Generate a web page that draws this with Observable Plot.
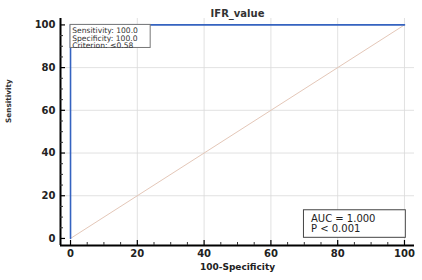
<!DOCTYPE html>
<html>
<head>
<meta charset="utf-8">
<script src="https://cdn.jsdelivr.net/npm/d3@7"></script>
<script src="https://cdn.jsdelivr.net/npm/@observablehq/plot@0.6"></script>
<style>
  body { margin: 0; background: #fff; }
  #chart svg { font-family: "DejaVu Sans", sans-serif; }
</style>
</head>
<body>
<div id="chart"></div>
<script>
// ROC curve data (100-Specificity, Sensitivity)
const rocX = [0, 0, 100];
const rocY = [0, 100, 100];
// reference diagonal
const diagX = [0, 100];
const diagY = [0, 100];
// axis ticks
const majorTicks = [0, 20, 40, 60, 80, 100];
const minorTicks = d3.range(0, 101, 5).filter(v => v % 20 !== 0);
const gridX = [20, 40, 60, 80, 100];
const gridY = [20, 40, 60, 80];
const xDomain = [-3, 103];
const yDomain = [-3.3, 103];
// annotations
const title = "IFR_value";
const xLabel = "100-Specificity";
const yLabel = "Sensitivity";
const infoLines = ["Sensitivity: 100.0", "Specificity: 100.0", "Criterion: \u22640.58"];
const aucLines = ["AUC = 1.000", "P < 0.001"];

const roc = rocX.map((x, i) => ({x, y: rocY[i]}));
const diag = diagX.map((x, i) => ({x, y: diagY[i]}));

const chart = Plot.plot({
  width: 422,
  height: 280,
  marginLeft: 60,
  marginRight: 8,
  marginTop: 18,
  marginBottom: 35,
  style: {fontFamily: "'DejaVu Sans', sans-serif", background: "#fff"},
  x: {domain: xDomain, label: null},
  y: {domain: yDomain, label: null},
  marks: [
    Plot.ruleX(gridX, {stroke: "#d9d9d9", strokeWidth: 0.8}),
    Plot.ruleY(gridY, {stroke: "#d9d9d9", strokeWidth: 0.8}),
    Plot.line(diag, {x: "x", y: "y", stroke: "#e4c7b8", strokeWidth: 1}),
    Plot.line(roc, {x: "x", y: "y", stroke: "#3563c0", strokeWidth: 1.6}),
    // axis lines
    Plot.ruleX([xDomain[0]], {stroke: "#000", strokeWidth: 2}),
    Plot.ruleY([yDomain[0]], {stroke: "#000", strokeWidth: 2}),
    // inward ticks
    Plot.axisX({ticks: majorTicks, tickSize: -5, text: null, stroke: "#000", strokeWidth: 1.2, label: null}),
    Plot.axisX({ticks: minorTicks, tickSize: -3, text: null, stroke: "#333", label: null}),
    Plot.axisY({ticks: majorTicks, tickSize: -5, text: null, stroke: "#000", strokeWidth: 1.2, label: null}),
    Plot.axisY({ticks: minorTicks, tickSize: -3, text: null, stroke: "#333", label: null}),
    // tick labels
    Plot.axisX({ticks: majorTicks, tickSize: 0, tickPadding: 4, fontSize: 10, fontWeight: "bold", fill: "#222", label: null}),
    Plot.axisY({ticks: majorTicks, tickSize: 0, tickPadding: 5, fontSize: 10, fontWeight: "bold", fill: "#222", label: null}),
    // title & axis labels
    Plot.text([title], {frameAnchor: "top", dy: -9, fontSize: 10, fontWeight: "bold", fill: "#333"}),
    Plot.text([xLabel], {frameAnchor: "bottom", dy: 24, fontSize: 9, fontWeight: "bold", fill: "#222"}),
    Plot.text([yLabel], {frameAnchor: "left", dx: -52, dy: -9, rotate: -90, fontSize: 7.3, fontWeight: "bold", fill: "#333"}),
    // info box (top-left)
    Plot.rect([0], {x1: 0, x2: 24, y1: 89.2, y2: 100, fill: "#fff", stroke: "#777", strokeWidth: 1}),
    Plot.text(infoLines, {x: 0.5, y: (d, i) => 97.3 - i * 3.5, text: d => d, textAnchor: "start", fontSize: 7.6, fill: "#333"}),
    // AUC box (bottom-right)
    Plot.rect([0], {x1: 69.9, x2: 100.4, y1: 0.3, y2: 13.2, fill: "#fff", stroke: "#444", strokeWidth: 1}),
    Plot.text(aucLines, {x: 72, y: (d, i) => 9.4 - i * 4.8, text: d => d, textAnchor: "start", fontSize: 10, fill: "#222"})
  ]
});
document.getElementById("chart").appendChild(chart);
</script>
</body>
</html>
